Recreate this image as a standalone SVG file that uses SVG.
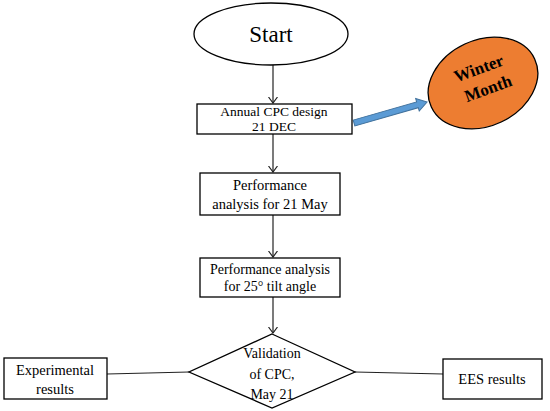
<svg xmlns="http://www.w3.org/2000/svg" width="550" height="411" viewBox="0 0 550 411">
<defs>
<style>
.box{fill:#fff;stroke:#000;stroke-width:1.3}
.t{font-family:"Liberation Serif","Times New Roman",serif;fill:#000;text-anchor:middle}
.c{stroke:#222;stroke-width:1.2;fill:none}
</style>
<marker id="ah" markerUnits="userSpaceOnUse" markerWidth="12" markerHeight="12" refX="6" refY="6" orient="auto">
<path d="M0,1.5 L6,6 L0,10.5" fill="none" stroke="#222" stroke-width="1.2"/>
</marker>
</defs>
<rect width="550" height="411" fill="#fff"/>
<g id="connectors">
<line class="c" x1="273" y1="65" x2="273" y2="103" marker-end="url(#ah)"/>
<line class="c" x1="273" y1="134" x2="273" y2="172" marker-end="url(#ah)"/>
<line class="c" x1="273" y1="215" x2="273" y2="257" marker-end="url(#ah)"/>
<line class="c" x1="273" y1="297" x2="273" y2="333" marker-end="url(#ah)"/>
<line class="c" x1="107" y1="374" x2="189" y2="372"/>
<line class="c" x1="355" y1="372" x2="443" y2="374"/>
<g transform="translate(354,123) rotate(-16)">
<path d="M0,-3 L66,-3 L66,-6.5 L76,0 L66,6.5 L66,3 L0,3 Z" fill="#5B9BD5" stroke="#41719C" stroke-width="1"/>
</g>
</g>
<g font-family="Liberation Serif, Times New Roman, serif">
<g id="start">
<ellipse cx="271" cy="34" rx="77" ry="31" class="box"/>
<text class="t" x="271" y="42" font-size="23">Start</text>
</g>
<g id="winter">
<ellipse cx="483" cy="83" rx="57" ry="43" transform="rotate(-25 483 83)" fill="#ED7D31" stroke="#000" stroke-width="1.3"/>
<g transform="rotate(-20 484 80)">
<text class="t" x="483" y="73" font-size="17" font-weight="bold">Winter</text>
<text class="t" x="485" y="95" font-size="17" font-weight="bold">Month</text>
</g>
</g>
<g id="annual">
<rect x="197" y="104" width="155" height="30" class="box"/>
<text class="t" x="274" y="116" font-size="13.5">Annual CPC design</text>
<text class="t" x="274" y="131" font-size="13.5">21 DEC</text>
</g>
<g id="perf1">
<rect x="200" y="173" width="140" height="42" class="box"/>
<text class="t" x="270" y="190" font-size="14.5">Performance</text>
<text class="t" x="270" y="209" font-size="14.5">analysis for 21 May</text>
</g>
<g id="perf2">
<rect x="200" y="258" width="140" height="39" class="box"/>
<text class="t" x="270" y="274" font-size="14">Performance analysis</text>
<text class="t" x="270" y="291" font-size="14">for 25° tilt angle</text>
</g>
<g id="validation">
<polygon points="272,334 355,372 272,408 189,372" class="box"/>
<text class="t" x="272" y="358" font-size="14">Validation</text>
<text class="t" x="272" y="379" font-size="14">of CPC,</text>
<text class="t" x="272" y="399" font-size="14">May 21</text>
</g>
<g id="experimental">
<rect x="4" y="358" width="103" height="41" class="box"/>
<text class="t" x="55" y="375" font-size="14.5">Experimental</text>
<text class="t" x="55" y="394" font-size="14.5">results</text>
</g>
<g id="ees">
<rect x="443" y="359" width="99" height="40" class="box"/>
<text class="t" x="492" y="384" font-size="14.5">EES results</text>
</g>
</g>
</svg>
